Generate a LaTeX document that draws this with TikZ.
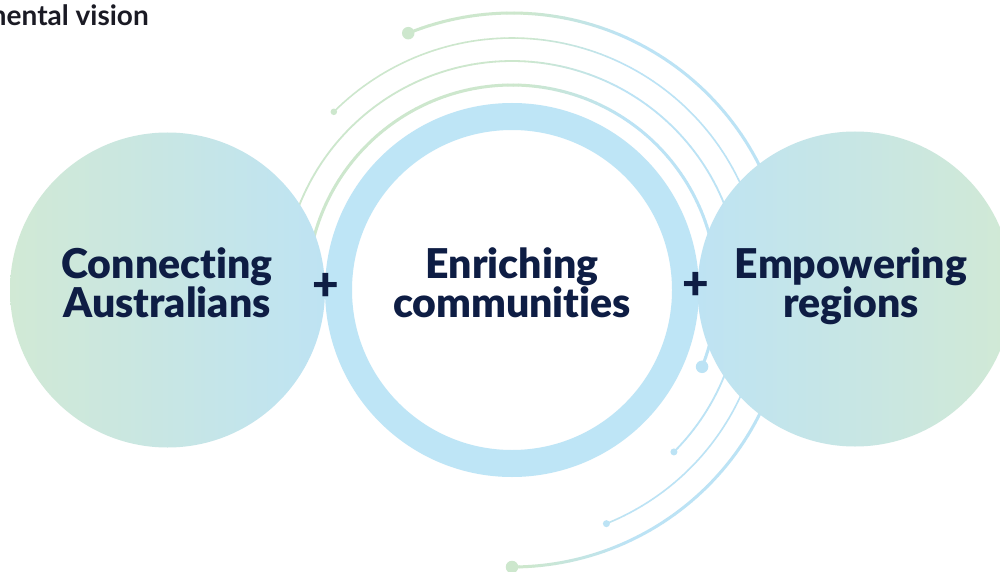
\documentclass[tikz,border=0pt]{standalone}
\usepackage{fontspec}
\setmainfont{Lato}[Ligatures=NoCommon]
\newfontfamily\labelfont{Lato Black}[Ligatures=NoCommon]

\definecolor{navy}{HTML}{0E1D44}
\definecolor{titleink}{HTML}{1A1A24}
\definecolor{ringblue}{HTML}{BEE5F6}
\definecolor{arcblue}{HTML}{BCE3F5}
\definecolor{arcgreen}{HTML}{CDE7CD}
\definecolor{bubgreen}{HTML}{D1E9D5}
\definecolor{bubblue}{HTML}{BEE3F3}

% orbit arc around the central ring, coloured green -> blue from left to right
% #1 radius, #2 start angle, #3 end angle, #4 line width
\newcommand\orbitarc[4]{%
  \pgfmathtruncatemacro\oaN{abs(#3-#2)/1.5+1}%
  \foreach \k in {1,...,\oaN}{%
    \pgfmathsetmacro\oaA{#2+(#3-#2)*((\k-1)/\oaN)}%
    \pgfmathsetmacro\oaB{#2+(#3-#2)*(\k/\oaN)}%
    \pgfmathsetmacro\oaX{512+#1*cos((\oaA+\oaB)/2)}%
    \pgfmathtruncatemacro\oaT{min(100,max(0,(\oaX-525)))}%
    \draw[line width=#4, line cap=round, color=arcblue!\oaT!arcgreen]
      ({512+#1*cos(\oaA)},{290-#1*sin(\oaA)}) -- ({512+#1*cos(\oaB)},{290-#1*sin(\oaB)});
  }%
}

\tikzset{
  bubble/.style={circle, minimum size=315pt, inner sep=0pt, draw=none},
  lbl/.style={font=\labelfont\fontsize{41}{41}\selectfont, text=navy, anchor=base, inner sep=0pt},
  plussign/.style={font=\labelfont\fontsize{46}{46}\selectfont, text=navy, inner sep=0pt},
  orbitdot/.style={inner sep=0pt, circle, draw=none}
}

\begin{document}
\begin{tikzpicture}[x=1pt, y=-1pt]
\useasboundingbox (0,0) rectangle (1000,572);
\fill[white] (0,0) rectangle (1000,572);
\clip (0,0) rectangle (1000,572);

% orbit lines
\orbitarc{277}{112}{-90}{3pt}
\orbitarc{252}{135}{-68}{1.6pt}
\orbitarc{229}{172}{-45}{1.8pt}
\orbitarc{205}{176}{-22}{3pt}

% orbit end dots
\node[orbitdot, fill=arcgreen, minimum size=12.5pt] (o1a) at ({512+277*cos(112)},{290-277*sin(112)}) {};
\node[orbitdot, fill=arcgreen, minimum size=12.5pt] (o1b) at ({512+277*cos(-90)},{290-277*sin(-90)}) {};
\node[orbitdot, fill=arcgreen, minimum size=6.5pt] (o2a) at ({512+252*cos(135)},{290-252*sin(135)}) {};
\node[orbitdot, fill=arcblue, minimum size=7pt] (o2b) at ({512+252*cos(-68)},{290-252*sin(-68)}) {};
\node[orbitdot, fill=arcblue, minimum size=7pt] (o3b) at ({512+229*cos(-45)},{290-229*sin(-45)}) {};
\node[orbitdot, fill=arcblue, minimum size=12.5pt] (o4b) at ({512+205*cos(-22)},{290-205*sin(-22)}) {};

% central ring
\draw[line width=27pt, ringblue] (512,290) circle[radius=173.5pt];

% side bubbles
\node[bubble, left color=bubgreen, right color=bubblue] (left) at (167.5,290) {};
\node[bubble, left color=bubblue, right color=bubgreen] (right) at (855,289) {};

% labels
\node[lbl] (l1) at (167,278) {Connecting};
\node[lbl] (l2) at (167,317) {Australians};
\node[lbl] (c1) at (512,278) {Enriching};
\node[lbl] (c2) at (512,317) {communities};
\node[lbl] (r1) at (851,278) {Empowering};
\node[lbl] (r2) at (851,317) {regions};

\node[plussign] (p1) at (326,287) {+};
\node[plussign] (p2) at (696,286) {+};

% heading, running off the left edge
\node[anchor=base east, inner sep=0pt, text=titleink, font=\bfseries\fontsize{28}{28}\selectfont] (title) at (149,26) {mental vision};
\end{tikzpicture}
\end{document}
